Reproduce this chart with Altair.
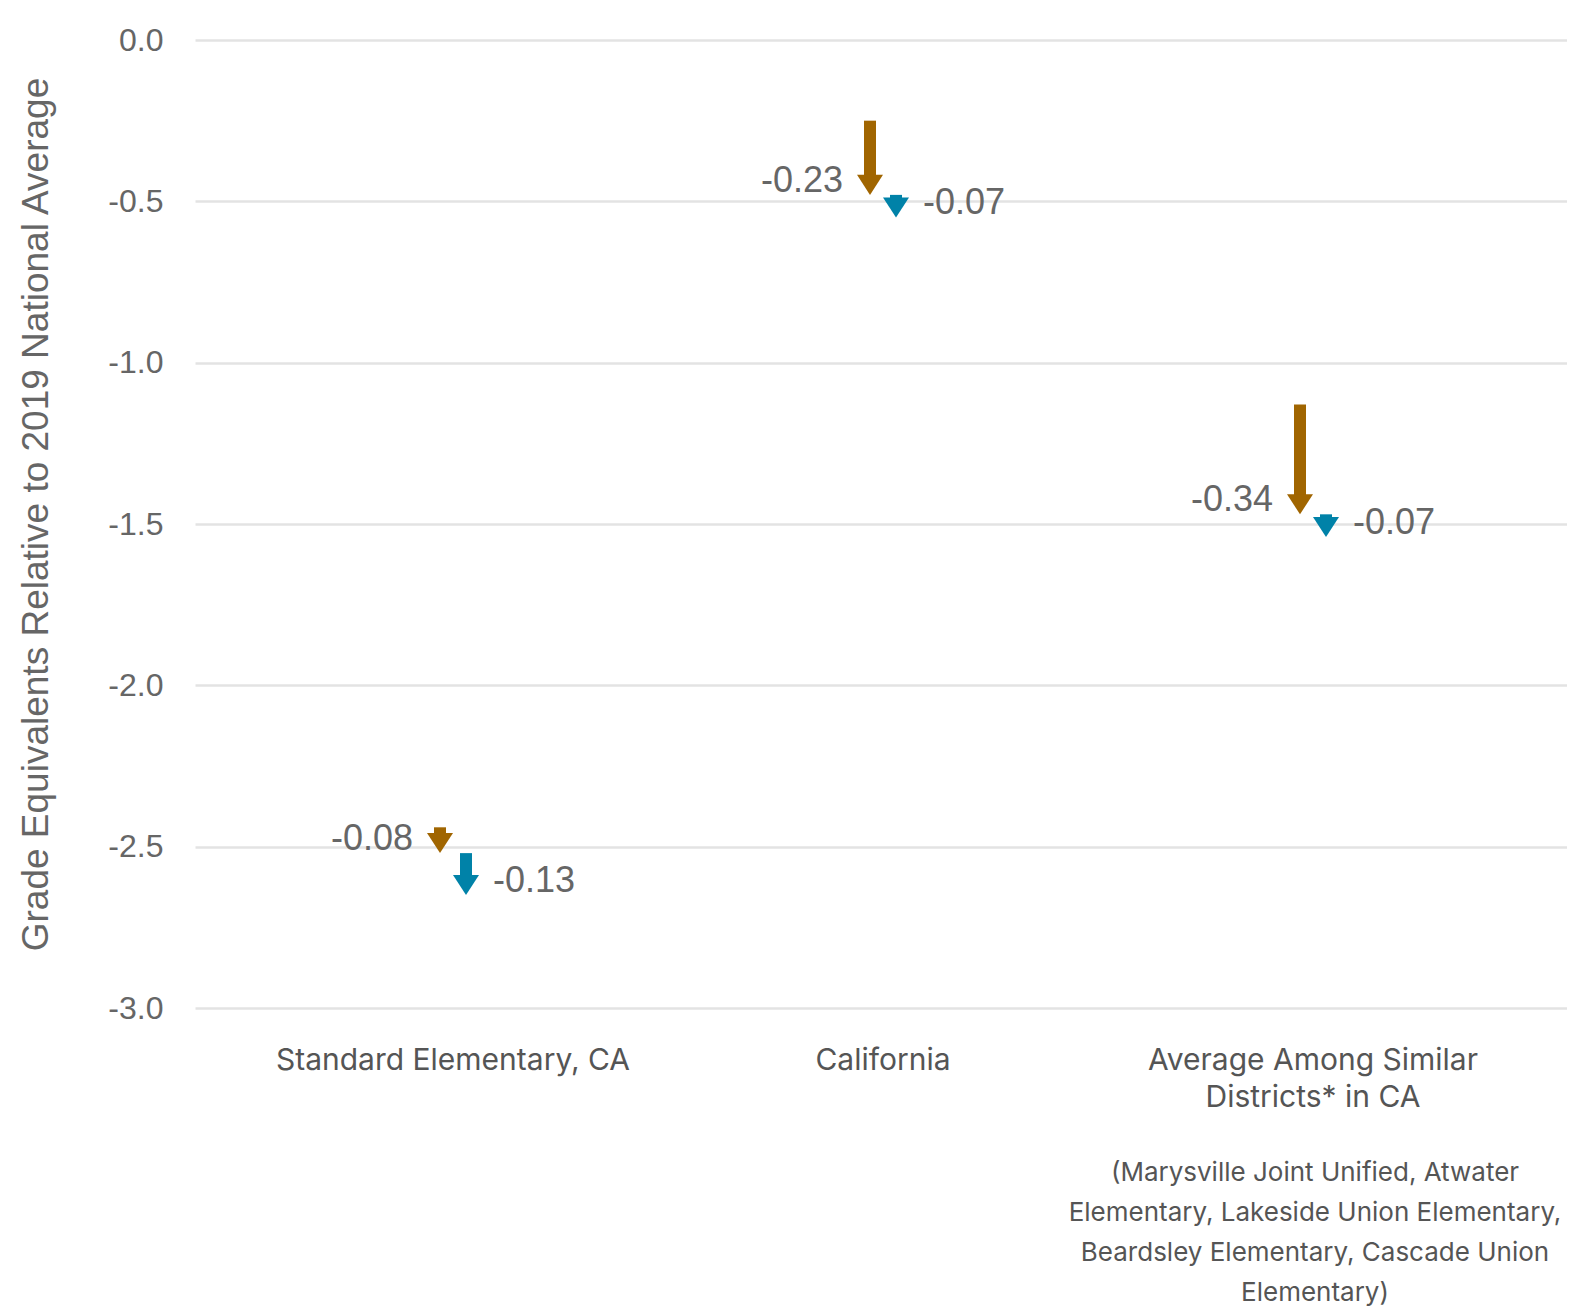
import altair as alt
import pandas as pd

# ---- data ----
categories = ["Standard Elementary, CA", "California", "Average Among Similar|Districts* in CA"]
start_values = [-2.44, -0.25, -1.13]      # level before the first drop
first_change = [-0.08, -0.23, -0.34]      # brown arrow
second_change = [-0.13, -0.07, -0.07]     # blue arrow
y_ticks = [0.0, -0.5, -1.0, -1.5, -2.0, -2.5, -3.0]
footnote_lines = [
    "(Marysville Joint Unified, Atwater",
    "Elementary, Lakeside Union Elementary,",
    "Beardsley Elementary, Cascade Union",
    "Elementary)",
]
footnote_category = categories[2]

BROWN = "#A06500"
BLUE = "#0082A8"
GRID = "#e3e3e3"
TEXT = "#666666"
# arrow head: 26px wide, 20px tall, tip at the data value
HEAD = "M-1,-1.54L1,-1.54L0,0Z"
HEAD_SIZE = 676
SHAFT_CUT = -19

rows = []
for c, s, d1, d2 in zip(categories, start_values, first_change, second_change):
    mid = s + d1
    end = mid + d2
    rows.append(dict(cat=c, start=s, mid=mid, end=end,
                     lab1=f"{d1:.2f}", lab2=f"{d2:.2f}"))
df = pd.DataFrame(rows)
foot_df = pd.DataFrame({"cat": [footnote_category]})

TITLE = "Grade Equivalents Relative to 2019 National Average"


def xenc():
    return alt.X(
        "cat:N",
        scale=alt.Scale(domain=categories, paddingInner=0, paddingOuter=0.1,
                        range=[0, 1376]),
        title=None,
        axis=alt.Axis(
            labelAngle=0, ticks=False, domain=False, grid=False,
            labelFont="Inter", labelFontSize=30, labelColor="#555555",
            labelPadding=37, labelLineHeight=37, labelLimit=0,
            labelExpr="split(datum.label, '|')",
        ),
    )


def yenc(field):
    return alt.Y(
        f"{field}:Q",
        scale=alt.Scale(domain=[-3, 0], nice=False, zero=False),
        title=TITLE,
        axis=alt.Axis(
            values=y_ticks, ticks=False, domain=False, grid=True,
            gridColor=GRID, gridWidth=2.5,
            labelFont="Liberation Sans", labelFontSize=32, labelColor=TEXT,
            labelPadding=32,
            labelExpr="replace(format(datum.value, '.1f'), '\u2212', '-')",
            titleFont="Liberation Sans", titleFontSize=37, titleColor=TEXT,
            titleFontWeight="normal", titlePadding=52, titleY=474,
        ),
    )


base = alt.Chart(df)

brown_shaft = base.mark_rule(strokeWidth=12, color=BROWN, xOffset=-13,
                             y2Offset=SHAFT_CUT).encode(
    x=xenc(), y=yenc("start"), y2="mid:Q")
brown_head = base.mark_point(shape=HEAD, size=HEAD_SIZE, filled=True,
                             opacity=1, strokeWidth=0, color=BROWN,
                             xOffset=-13).encode(
    x=xenc(), y=yenc("mid"))
blue_shaft = base.mark_rule(strokeWidth=12, color=BLUE, xOffset=13,
                            y2Offset=SHAFT_CUT).encode(
    x=xenc(), y=yenc("mid"), y2="end:Q")
blue_head = base.mark_point(shape=HEAD, size=HEAD_SIZE, filled=True,
                            opacity=1, strokeWidth=0, color=BLUE,
                            xOffset=13).encode(
    x=xenc(), y=yenc("end"))
brown_label = base.mark_text(align="right", baseline="middle", dx=-40, dy=-14,
                             font="Liberation Sans", fontSize=36, color=TEXT).encode(
    x=xenc(), y=yenc("mid"), text="lab1:N")
blue_label = base.mark_text(align="left", baseline="middle", dx=40, dy=-14,
                            font="Liberation Sans", fontSize=36, color=TEXT).encode(
    x=xenc(), y=yenc("end"), text="lab2:N")
footnote = alt.Chart(foot_df).mark_text(
    text=footnote_lines, lineHeight=40, fontSize=26, font="Inter",
    color="#555555", baseline="top", align="center", dx=2).encode(
    x=xenc(), y=alt.value(1120))

chart = alt.layer(
    brown_shaft, brown_head, blue_shaft, blue_head, brown_label, blue_label, footnote
).properties(
    width=1372, height=968,
    autosize=alt.AutoSizeParams(type="none"),
    padding={"left": 187, "top": 32, "right": 0, "bottom": 300},
    background="white",
).configure_view(stroke=None)

chart.save("out.html", embed_options={"renderer": "svg", "actions": False})
